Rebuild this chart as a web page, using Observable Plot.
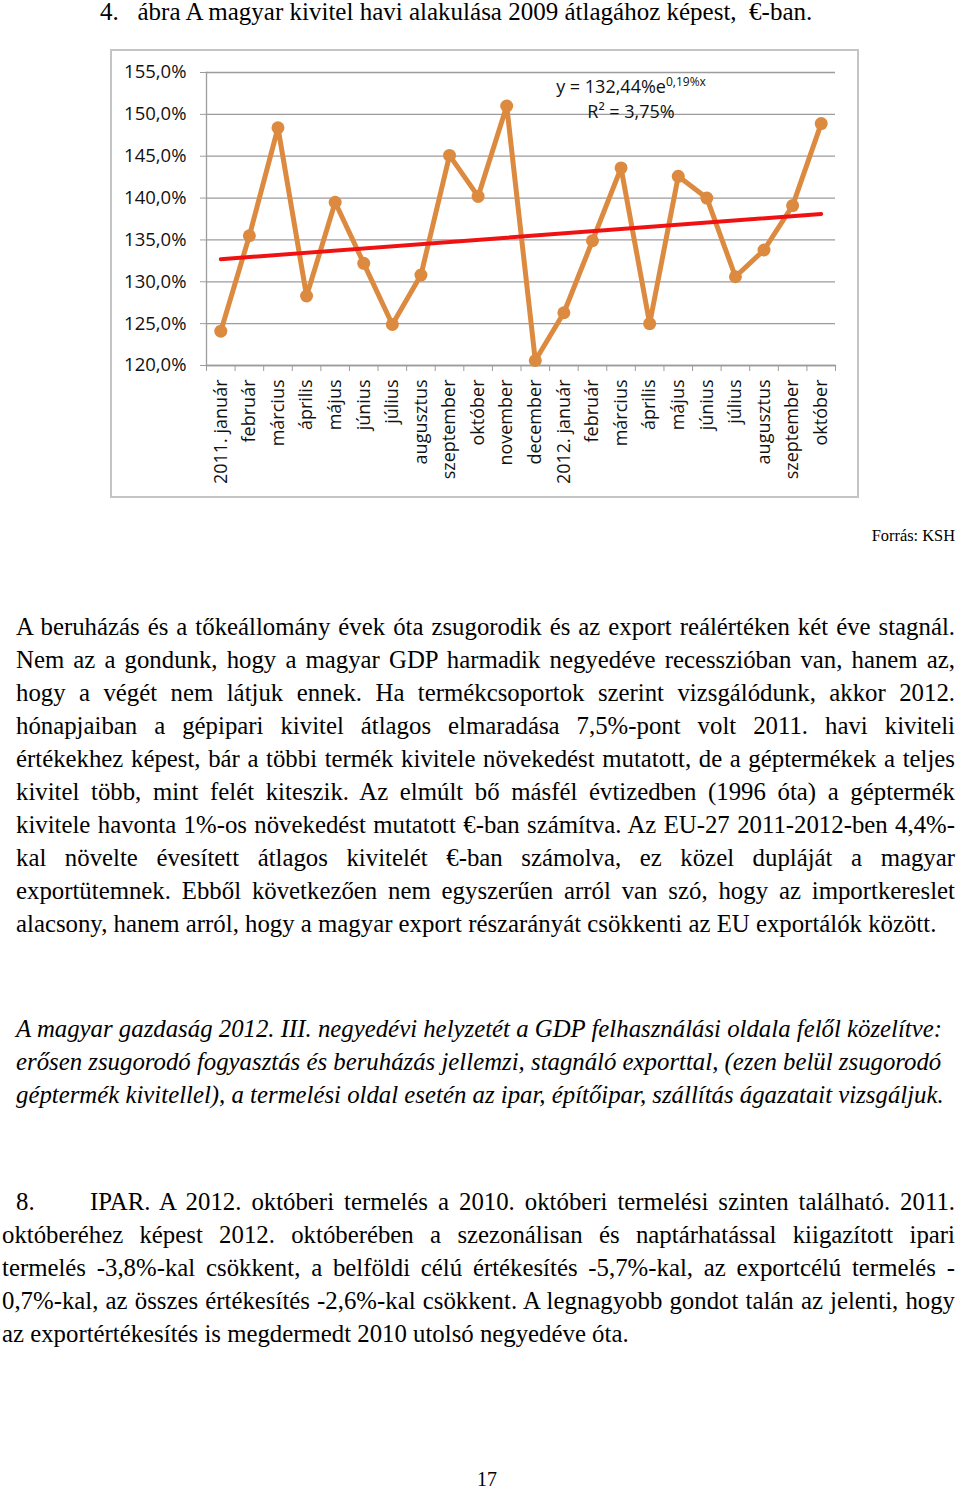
<!DOCTYPE html>
<html>
<head>
<meta charset="utf-8">
<script src="https://cdn.jsdelivr.net/npm/d3@7"></script>
<script src="https://cdn.jsdelivr.net/npm/@observablehq/plot@0.6"></script>
<style>
  html, body { margin: 0; padding: 0; background: #fff; }
  body { width: 960px; height: 1490px; position: relative; overflow: hidden; font-family: "Liberation Serif", "Times New Roman", serif; color: #000; }
  .abs { position: absolute; }
  .title { left: 100px; top: -2px; font-size: 25px; line-height: 28px; white-space: pre; }
  .src { right: 5px; top: 526px; font-size: 16.4px; line-height: 20px; }
  .para { font-size: 24.8px; line-height: 33px; }
  .para .ln { white-space: nowrap; text-align: justify; text-align-last: justify; height: 33px; }
  .para .ln.last { text-align-last: left; }
  .para .ln.left { text-align: left; text-align-last: left; }
  .p1 { left: 16px; top: 610px; width: 939px; }
  .p2 { left: 16px; top: 1012px; width: 945px; font-style: italic; }
  .p3 { left: 2px; top: 1185px; width: 953px; }
  .p3 .first { display: flex; margin-left: 14px; }
  .p3 .first .num { width: 74px; flex: none; }
  .p3 .first .rest { flex: 1; text-align: justify; text-align-last: justify; white-space: nowrap; }
  .pg { left: 0; width: 974px; top: 1466px; text-align: center; font-size: 20px; line-height: 26px; }
  #chartBox { position: absolute; left: 110px; top: 49px; width: 745px; height: 445px; border: 2px solid #c4c4c4; background: #fff; }
  #chartBox svg { display: block; }
  .eq { position: absolute; left: 419px; width: 200px; text-align: center; font-family: "Open Sans", sans-serif; font-size: 18px; line-height: 25px; color: #111; white-space: nowrap; }
  .eq sup { font-size: 12px; vertical-align: 0; position: relative; top: -7px; }
</style>
</head>
<body>
<div class="abs title">4.   ábra A magyar kivitel havi alakulása 2009 átlagához képest,  €-ban.</div>
<div id="chartBox">
  <div class="eq" style="top:23px">y = 132,44%e<sup>0,19%x</sup></div>
  <div class="eq" style="top:48px">R² = 3,75%</div>
</div>
<div class="abs src">Forrás: KSH</div>

<div class="abs para p1">
  <div class="ln">A beruházás és a tőkeállomány évek óta zsugorodik és az export reálértéken két éve stagnál.</div>
  <div class="ln">Nem az a gondunk, hogy a magyar GDP harmadik negyedéve recesszióban van, hanem az,</div>
  <div class="ln">hogy a végét nem látjuk ennek. Ha termékcsoportok szerint vizsgálódunk, akkor 2012.</div>
  <div class="ln">hónapjaiban a gépipari kivitel átlagos elmaradása 7,5%-pont volt 2011. havi kiviteli</div>
  <div class="ln">értékekhez képest, bár a többi termék kivitele növekedést mutatott, de a géptermékek a teljes</div>
  <div class="ln">kivitel több, mint felét kiteszik. Az elmúlt bő másfél évtizedben (1996 óta) a géptermék</div>
  <div class="ln">kivitele havonta 1%-os növekedést mutatott €-ban számítva. Az EU-27 2011-2012-ben 4,4%-</div>
  <div class="ln">kal növelte évesített átlagos kivitelét €-ban számolva, ez közel dupláját a magyar</div>
  <div class="ln">exportütemnek. Ebből következően nem egyszerűen arról van szó, hogy az importkereslet</div>
  <div class="ln last">alacsony, hanem arról, hogy a magyar export részarányát csökkenti az EU exportálók között.</div>
</div>

<div class="abs para p2">
  <div class="ln left">A magyar gazdaság 2012. III. negyedévi helyzetét a GDP felhasználási oldala felől közelítve:</div>
  <div class="ln left">erősen zsugorodó fogyasztás és beruházás jellemzi, stagnáló exporttal, (ezen belül zsugorodó</div>
  <div class="ln left">géptermék kivitellel), a termelési oldal esetén az ipar, építőipar, szállítás ágazatait vizsgáljuk.</div>
</div>

<div class="abs para p3">
  <div class="ln first"><span class="num">8.</span><span class="rest">IPAR. A 2012. októberi termelés a 2010. októberi termelési szinten található. 2011.</span></div>
  <div class="ln">októberéhez képest 2012. októberében a szezonálisan és naptárhatással kiigazított ipari</div>
  <div class="ln">termelés -3,8%-kal csökkent, a belföldi célú értékesítés -5,7%-kal, az exportcélú termelés -</div>
  <div class="ln">0,7%-kal, az összes értékesítés -2,6%-kal csökkent. A legnagyobb gondot talán az jelenti, hogy</div>
  <div class="ln last">az exportértékesítés is megdermedt 2010 utolsó negyedéve óta.</div>
</div>

<div class="abs pg">17</div>

<script>
// ---- data ----
const months = ["2011. január","február","március","április","május","június","július","augusztus","szeptember","október","november","december","2012. január","február","március","április","május","június","július","augusztus","szeptember","október"];
const values = [124.1,135.5,148.4,128.3,139.5,132.2,124.9,130.8,145.1,140.2,151.0,120.6,126.3,134.9,143.6,125.0,142.6,140.0,130.6,133.8,139.1,148.9];
// exponential trend line (y = 132,44% e^(0,19% x)) read at first and last month
const trendEnds = [132.7, 138.1];
const yTicks = [120,125,130,135,140,145,150,155];

// ---- derived tables ----
const rows = months.map((m, i) => ({i, month: m, value: values[i]}));
const trend = [{i: 0, value: trendEnds[0]}, {i: months.length - 1, value: trendEnds[1]}];
const idx = months.map((m, i) => i);
const bounds = d3.range(months.length + 1).map(k => k - 0.5);

const orange = "#dc8a40";
const red = "#f01212";
const grid = "#9c9c9c";
const fmt = d => d.toFixed(1).replace(".", ",") + "%";

const chart = Plot.plot({
  width: 745,
  height: 445,
  marginLeft: 94,
  marginRight: 22,
  marginTop: 21,
  marginBottom: 131,
  x: {domain: [-0.5, months.length - 0.5]},
  y: {domain: [120, 155]},
  style: {fontFamily: "'Open Sans', sans-serif", fontSize: "18px", color: "#111", background: "transparent", overflow: "visible"},
  marks: [
    Plot.gridY(yTicks, {stroke: grid, strokeOpacity: 1, strokeWidth: 1.3}),
    Plot.frame({anchor: "left", stroke: grid, strokeWidth: 1.3}),
    Plot.frame({anchor: "bottom", stroke: grid, strokeWidth: 1.3}),
    Plot.axisY(yTicks, {tickSize: 6, tickPadding: 14, tickFormat: fmt, label: null, stroke: grid, fontSize: 18.5}),
    Plot.axisX(bounds, {tickSize: 6, tickFormat: () => "", label: null, stroke: grid}),
    Plot.axisX(idx, {tickSize: 0, tickPadding: 14, tickRotate: -90, tickFormat: i => months[i], label: null, fontSize: 18}),
    Plot.line(rows, {x: "i", y: "value", stroke: orange, strokeWidth: 5}),
    Plot.dot(rows, {x: "i", y: "value", r: 6.5, fill: orange}),
    Plot.line(trend, {x: "i", y: "value", stroke: red, strokeWidth: 4})
  ]
});
document.getElementById("chartBox").prepend(chart);
</script>
</body>
</html>
